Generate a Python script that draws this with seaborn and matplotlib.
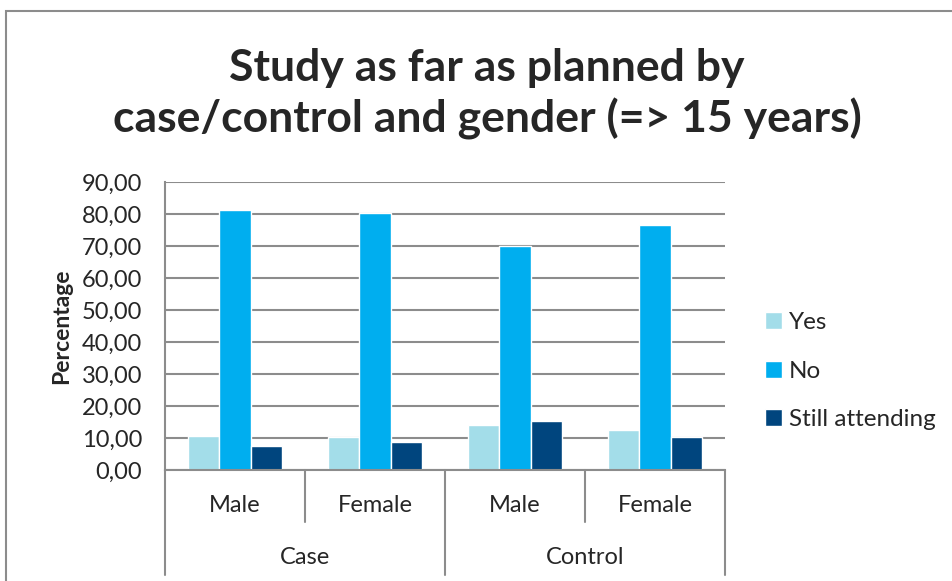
import numpy as np
import pandas as pd
import matplotlib
matplotlib.use("Agg")
import matplotlib.pyplot as plt
import seaborn as sns
from matplotlib.patches import Rectangle
from matplotlib.ticker import FuncFormatter

# data
groups = ["Case", "Case", "Control", "Control"]
genders = ["Male", "Female", "Male", "Female"]
answers = ["Yes", "No", "Still attending"]
yes_vals = [10.7, 10.2, 14.0, 12.5]
no_vals = [81.3, 80.3, 69.9, 76.5]
still_vals = [7.4, 8.9, 15.3, 10.4]
colors = ["#A3DDE9", "#00AEEF", "#00457E"]

sns.set_style("white")
plt.rcParams["font.family"] = ["Lato", "DejaVu Sans"]

rows = []
for i in range(4):
    key = f"{groups[i]}|{genders[i]}"
    for ans, vals in zip(answers, [yes_vals, no_vals, still_vals]):
        rows.append({"cat": key, "answer": ans, "pct": vals[i]})
df = pd.DataFrame(rows)
order = [f"{g}|{s}" for g, s in zip(groups, genders)]

W, H = 952, 581
fig = plt.figure(figsize=(W / 100, H / 100), dpi=100)
# chart area border (only left and top visible in the crop)
fig.patches.append(Rectangle((6 / W, -0.2), 2, (H - 11) / H + 0.2, transform=fig.transFigure,
                             fill=False, edgecolor="#8c8c8c", linewidth=1.5))

ax = fig.add_axes([165 / W, (H - 470) / H, 560 / W, 288 / H])
sns.barplot(data=df, x="cat", y="pct", hue="answer", order=order, hue_order=answers,
            palette=colors, width=0.665, saturation=1, ax=ax, legend=True)

ax.set_ylim(0, 90)
ax.set_xlim(-0.5, 3.5)
ax.set_yticks(np.arange(0, 91, 10))
ax.yaxis.set_major_formatter(FuncFormatter(lambda v, p: f"{v:.2f}".replace(".", ",")))
ax.tick_params(axis="y", labelsize=17, length=7, width=1.5, color="#8c8c8c", pad=9.5)
ax.set_xticks([])
ax.set_xlabel("")
ax.set_ylabel("Percentage", fontsize=16.5, fontweight="bold", labelpad=7)
ax.grid(axis="y", color="#8c8c8c", linewidth=1.5)
ax.set_axisbelow(True)
for s in ["top", "right"]:
    ax.spines[s].set_visible(False)
for s in ["left", "bottom"]:
    ax.spines[s].set_color("#8c8c8c")
    ax.spines[s].set_linewidth(1.5)

# multi-level category axis
trans = ax.get_xaxis_transform()
for x, long_line in zip([-0.5, 0.5, 1.5, 2.5, 3.5], [True, False, True, False, True]):
    y_end = -(575 - 470) / 288 if long_line else -(522 - 470) / 288
    ax.plot([x, x], [0, y_end], transform=trans, color="#8c8c8c", linewidth=1.5, clip_on=False)
for i, g in enumerate(genders):
    ax.text(i, -(505 - 470) / 288, g, transform=trans, ha="center", va="center", fontsize=17)
for x, g in zip([0.5, 2.5], ["Case", "Control"]):
    ax.text(x, -(558 - 470) / 288, g, transform=trans, ha="center", va="center", fontsize=17)

leg = ax.legend(loc="center left", bbox_to_anchor=(1.032, 0.343), frameon=False,
                fontsize=17.5, handlelength=0.7, handleheight=0.7, handletextpad=0.3,
                labelspacing=1.12)

fig.text(487 / W, 1 - 94 / H, "Study as far as planned by\ncase/control and gender (=> 15 years)",
         ha="center", va="center", fontsize=32, fontweight="bold", linespacing=1.27)

fig.savefig("out.png", dpi=100)
